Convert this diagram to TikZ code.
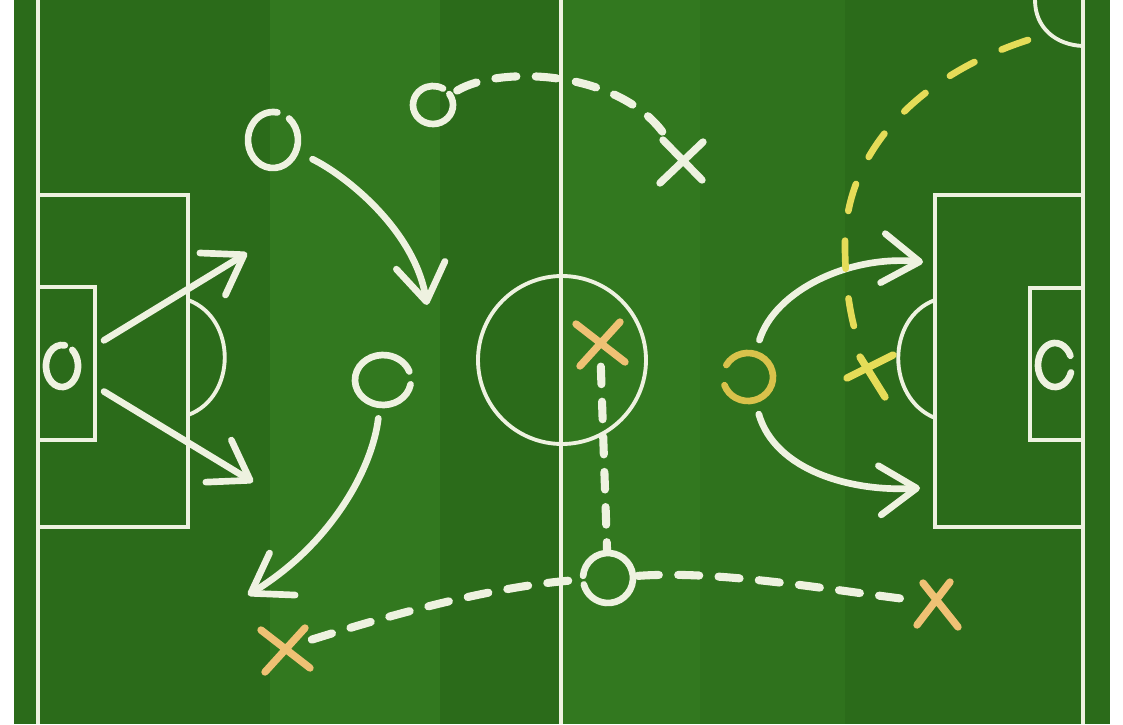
\documentclass[tikz,border=0pt]{standalone}
\usetikzlibrary{arrows.meta}
\definecolor{GRASSd}{HTML}{2B6B1A}
\definecolor{GRASSl}{HTML}{32781F}
\definecolor{GRASSm}{HTML}{2F721D}
\definecolor{CHALK}{HTML}{EEF2E0}
\definecolor{ORX}{HTML}{EFC174}
\definecolor{YELc}{HTML}{E5DC58}
\definecolor{YELo}{HTML}{D9C24B}

\begin{document}
\begin{tikzpicture}[
  x=0.02cm, y=-0.02cm,
  % pitch markings
  pline/.style={draw=CHALK, line width=2.2pt},
  % hand drawn chalk stroke
  chalk/.style={draw=CHALK, line width=3.8pt, line cap=round},
  % run: chalk stroke with an open chevron head
  run/.style={chalk, -{Straight Barb[length=21pt, width=28pt, round]}},
  % pass: dashed chalk stroke
  pass/.style={chalk, line width=4.6pt, dash pattern=on 12pt off 11pt},
  % crosses for the opponents
  cross/.style={line width=4.2pt, line cap=round},
]
\useasboundingbox (0,0) rectangle (1123,724);

% ---------- Grass (mown stripes) ----------
\fill[white] (0,0) rectangle (1123,724);
\foreach \xa/\xb/\cc in {14/270/GRASSd, 270/440/GRASSl, 440/560/GRASSd,
                         560/700/GRASSl, 700/845/GRASSm, 845/1110/GRASSd}
  \fill[\cc] (\xa,0) rectangle (\xb,724);

% ---------- Pitch lines ----------
\draw[pline] (38,0) -- (38,724);
\draw[pline] (1083,0) -- (1083,724);
\draw[pline] (561,0) -- (561,724);
\draw[pline] (562,360) circle[radius=84];
\draw[pline] (38,195) rectangle (188,527);
\draw[pline] (38,287) rectangle (95,440);
\draw[pline] (188,300) .. controls (237,318) and (237,397) .. (188,415);
\draw[pline] (1083,195) -| (935,527) -- (1083,527);
\draw[pline] (1083,288) -| (1030,440) -- (1083,440);
\draw[pline] (935,300) .. controls (886,318) and (886,398) .. (935,418);
\draw[pline] (1035,0) .. controls (1035,28) and (1056,45) .. (1083,46);

% ---------- Players and marks ----------
\coordinate (GKL) at (62,366);
\coordinate (GKR) at (1055,365);
\coordinate (P1)  at (273,140);
\coordinate (P3)  at (433,105);
\coordinate (P4)  at (383,380);
\coordinate (PB)  at (608,578);
\coordinate (PY)  at (748,377);
\coordinate (XL)  at (285,648);
\coordinate (XC)  at (600,342);
\coordinate (XR)  at (938,603);
\coordinate (XW)  at (682,160);
\coordinate (XY)  at (870,367);

% open chalk circles (gap left where the chalk lifted)
\foreach \p/\rx/\ry/\a/\b in {GKL/16/21/-50/280, GKR/17/22/20/335, P1/25/28/-50/280,
                               P3/20/19/-35/300, P4/28/25/10/340, PB/25/25/185/525}
  \draw[chalk] (\p) ++({\rx*cos(\a)},{\ry*sin(\a)})
    arc[start angle=\a, end angle=\b, x radius=\rx, y radius=\ry];
\draw[chalk, draw=YELo] (PY) ++({25*cos(210)},{24*sin(210)})
  arc[start angle=210, end angle=520, x radius=25, y radius=24];

% crosses
\foreach \c in {XL, XC}
  \draw[cross, draw=ORX] (\c) +(-24,-18) -- +(25,20) (\c) +(20,-20) -- +(-20,24);
\draw[cross, draw=ORX] (XR) +(-15,-20) -- +(20,24) (XR) +(12,-21) -- +(-21,22);
\draw[cross, draw=CHALK] (XW) +(-19,-20) -- +(20,20) (XW) +(21,-18) -- +(-22,23);
\draw[cross, draw=YELc] (XY) +(-23,11) -- +(23,-12) (XY) +(-10,-10) -- +(15,30);

% ---------- Runs ----------
\coordinate (gkA) at (247,253);
\coordinate (gkB) at (253,482);
\coordinate (tipC) at (427,305);
\coordinate (tipD) at (248,595);
\coordinate (tipE) at (923,262);
\coordinate (tipF) at (920,488);
\draw[run, shorten <=28pt] (GKL) -- (gkA);
\draw[run, shorten <=28pt] (GKL) -- (gkB);
\draw[run, shorten <=25pt] (P1) .. controls (345,175) and (415,230) .. (tipC);
\draw[run, shorten <=22pt] (P4) .. controls (372,470) and (330,545) .. (tipD);
\draw[run, shorten <=22pt] (PY) .. controls (775,290) and (850,255) .. (tipE);
\draw[run, shorten <=22pt] (PY) .. controls (775,470) and (850,492) .. (tipF);

% ---------- Passes ----------
\draw[pass, shorten <=16pt, shorten >=17pt] (P3) .. controls (500,65) and (620,70) .. (XW);
\draw[pass, shorten <=16pt, shorten >=16pt] (XL) .. controls (400,612) and (500,585) .. (PB);
\draw[pass, shorten <=17pt, shorten >=16pt] (PB) .. controls (720,570) and (830,590) .. (XR);
\draw[pass, dash pattern=on 10pt off 10pt, shorten <=14pt, shorten >=16pt] (XC) -- (PB);

% yellow run from the corner
\coordinate (YS) at (1028,40);
\draw[chalk, draw=YELc, dash pattern=on 16pt off 17pt, shorten >=11pt]
  (YS) .. controls (920,75) and (845,150) .. (845,245) .. controls (845,300) and (855,335) .. (XY);

\end{tikzpicture}
\end{document}
